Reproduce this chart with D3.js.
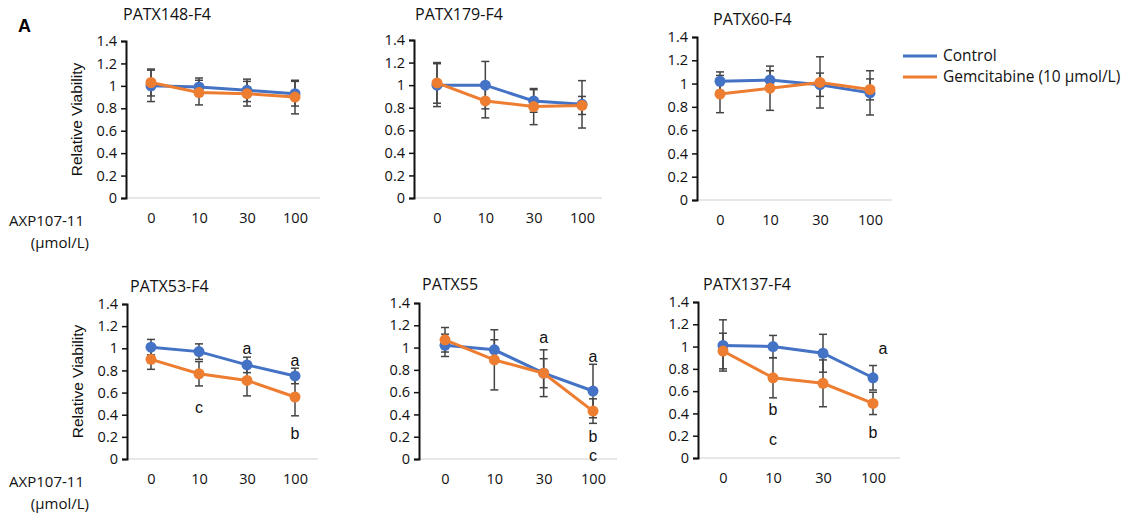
<!DOCTYPE html>
<html><head><meta charset="utf-8">
<script src="https://cdn.jsdelivr.net/npm/d3@7"></script>
<style>body{margin:0;background:#fff}</style></head>
<body><svg id="c" width="1121" height="519"></svg>
<script>
const doses = ["0","10","30","100"];
const yTicks = [0,0.2,0.4,0.6,0.8,1,1.2,1.4];
const yTickLabels = ["0","0.2","0.4","0.6","0.8","1","1.2","1.4"];
const seriesNames = ["Control","Gemcitabine (10 μmol/L)"];
const panelTitles = ["PATX148-F4","PATX179-F4","PATX60-F4","PATX53-F4","PATX55","PATX137-F4"];
// values per panel: control, gemcitabine
const control = [
  [1.00,0.99,0.96,0.93],
  [1.00,1.00,0.86,0.83],
  [1.02,1.03,0.99,0.92],
  [1.01,0.97,0.85,0.75],
  [1.02,0.98,0.77,0.61],
  [1.01,1.00,0.94,0.72]
];
const controlErr = [
  [0.14,0.08,0.10,0.11],
  [0.19,0.21,0.10,0.21],
  [0.08,0.08,0.10,0.19],
  [0.07,0.07,0.07,0.07],
  [0.10,0.09,0.21,0.24],
  [0.23,0.10,0.17,0.11]
];
const gemcitabine = [
  [1.03,0.94,0.93,0.90],
  [1.02,0.86,0.81,0.82],
  [0.91,0.96,1.01,0.95],
  [0.90,0.77,0.71,0.56],
  [1.07,0.89,0.77,0.43],
  [0.96,0.72,0.67,0.49]
];
const gemcitabineErr = [
  [0.12,0.11,0.11,0.15],
  [0.18,0.15,0.16,0.08],
  [0.16,0.19,0.22,0.09],
  [0.09,0.11,0.14,0.17],
  [0.11,0.27,0.13,0.11],
  [0.16,0.18,0.21,0.10]
];
// significance letters: [panel, dose, value-position, letter]
const letters = [
  [3,"30",1.00,"a"],[3,"100",0.89,"a"],[3,"10",0.47,"c"],[3,"100",0.23,"b"],
  [4,"30",1.09,"a"],[4,"100",0.92,"a"],[4,"100",0.20,"b"],[4,"100",0.035,"c"],
  [5,"100",0.98,"a"],[5,"10",0.44,"b"],[5,"10",0.17,"c"],[5,"100",0.23,"b"]
];
const colors = ["#4472C4","#ED7D31"];

// layout (pixels)
const layout = [
  {ax:126, x0:151, x1:295, xe:320, y0:198, y1:41, tx:123, ty:20},
  {ax:414, x0:437, x1:582, xe:602, y0:198, y1:40, tx:415, ty:20},
  {ax:697, x0:720, x1:870, xe:892, y0:200, y1:37, tx:713, ty:25},
  {ax:127, x0:151, x1:295, xe:318, y0:459, y1:304, tx:130, ty:292},
  {ax:419, x0:445, x1:593, xe:617, y0:459, y1:303, tx:422, ty:290},
  {ax:698, x0:723, x1:873, xe:900, y0:458, y1:302, tx:703, ty:290}
];
const font = "'Open Sans', 'Noto Sans', sans-serif";
const arial = "'Liberation Sans',Arial,sans-serif";
const svg = d3.select("#c");

svg.append("text").attr("x",18).attr("y",32).attr("font-family",arial)
  .attr("font-weight","bold").attr("font-size",18).text("A");

layout.forEach((L,i)=>{
  const g = svg.append("g");
  const x = d3.scalePoint().domain(doses).range([L.x0,L.x1]);
  const y = d3.scaleLinear().domain([0,1.4]).range([L.y0,L.y1]);
  g.append("line").attr("x1",L.ax).attr("x2",L.xe).attr("y1",L.y0).attr("y2",L.y0)
    .attr("stroke","#d0d0d0").attr("stroke-width",1.2);
  const ya = g.append("g").attr("transform",`translate(${L.ax},0)`)
    .call(d3.axisLeft(y).tickValues(yTicks).tickFormat((d,k)=>yTickLabels[k]).tickSizeOuter(0).tickSize(5).tickPadding(4));
  ya.select(".domain").attr("stroke","#111").attr("stroke-width",2);
  ya.selectAll(".tick line").attr("stroke","#111").attr("stroke-width",1.5);
  ya.selectAll("text").attr("font-family",font).attr("font-size",14.5).attr("fill","#111");
  const xa = g.append("g").attr("transform",`translate(0,${L.y0+8})`)
    .call(d3.axisBottom(x).tickSize(0).tickPadding(7));
  xa.select(".domain").remove();
  xa.selectAll("text").attr("font-family",font).attr("font-size",14.5).attr("fill","#111");
  g.append("text").attr("x",L.tx).attr("y",L.ty).attr("font-family",font).attr("font-size",16)
    .attr("fill","#111").text(panelTitles[i]);
  const sets = [[control[i],controlErr[i]],[gemcitabine[i],gemcitabineErr[i]]];
  sets.forEach(([vals,errs])=>{
    vals.forEach((v,k)=>{
      const cx = x(doses[k]);
      const eb = g.append("g").attr("stroke","#444").attr("stroke-width",1.5);
      eb.append("line").attr("x1",cx).attr("x2",cx).attr("y1",y(v+errs[k])).attr("y2",y(v-errs[k]));
      [v+errs[k],v-errs[k]].forEach(e=>eb.append("line").attr("x1",cx-4).attr("x2",cx+4).attr("y1",y(e)).attr("y2",y(e)));
    });
  });
  sets.forEach(([vals],s)=>{
    const line = d3.line().x((d,k)=>x(doses[k])).y(d=>y(d));
    g.append("path").attr("d",line(vals)).attr("fill","none").attr("stroke",colors[s]).attr("stroke-width",3);
    g.selectAll(null).data(vals).enter().append("circle")
      .attr("cx",(d,k)=>x(doses[k])).attr("cy",d=>y(d)).attr("r",5.5).attr("fill",colors[s]);
  });
  letters.filter(l=>l[0]===i).forEach(l=>{
    g.append("text").attr("x",x(l[1]) + (i===5 && l[3]==="a" ? 10 : 0)).attr("y",y(l[2]))
      .attr("dy","0.35em").attr("text-anchor","middle").attr("font-family",arial)
      .attr("font-size",16).attr("fill","#111").text(l[3]);
  });
  if (L.ax < 200) {
    g.append("text").attr("transform",`translate(${L.ax-44},${(L.y0+L.y1)/2}) rotate(-90)`)
      .attr("text-anchor","middle").attr("font-family",arial)
      .attr("font-size",15.5).attr("fill","#111").text("Relative Viability");
    g.append("text").attr("x",84).attr("y",L.y0+28).attr("text-anchor","end").attr("font-family",font).attr("font-size",15)
      .attr("fill","#111").text("AXP107-11");
    g.append("text").attr("x",89).attr("y",L.y0+50).attr("text-anchor","end").attr("font-family",font).attr("font-size",15)
      .attr("fill","#111").text("(μmol/L)");
  }
});

const leg = svg.append("g");
seriesNames.forEach((n,s)=>{
  const yy = 56 + s*21;
  leg.append("line").attr("x1",903).attr("x2",937).attr("y1",yy).attr("y2",yy).attr("stroke",colors[s]).attr("stroke-width",3);
  leg.append("text").attr("x",943).attr("y",yy).attr("dy","0.35em").attr("font-family",font)
    .attr("font-size",15.5).attr("fill","#111").text(n);
});
</script></body></html>
